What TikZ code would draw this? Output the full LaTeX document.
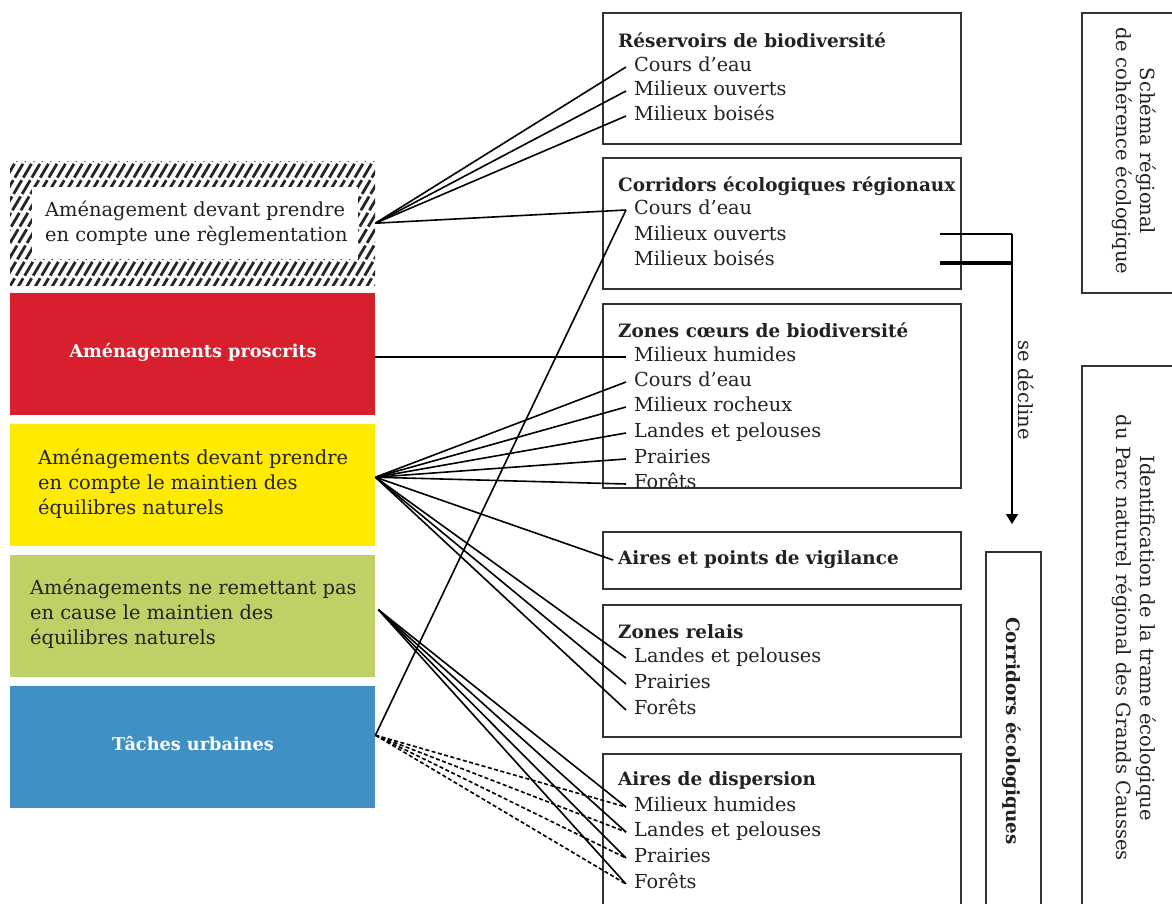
\documentclass[tikz,border=0pt]{standalone}
\usepackage{fontspec}
\setmainfont{DejaVu Serif}
\usetikzlibrary{arrows.meta}
\definecolor{cred}{HTML}{D71F2E}
\definecolor{cyellow}{HTML}{FFEB00}
\definecolor{cgreen}{HTML}{BDD167}
\definecolor{cblue}{HTML}{4090C5}
\definecolor{ctext}{HTML}{222222}
\begin{document}
\begin{tikzpicture}[x=1pt,y=-1pt,
  conn/.style={line width=1.6pt, black},
  dconn/.style={conn, dash pattern=on 4pt off 2.5pt},
  colbox/.style={anchor=north west, minimum width=365pt, minimum height=122pt, inner sep=0pt, draw=none},
  rbox/.style={draw=black!80, line width=1.8pt, anchor=north west, inner sep=0pt},
  ttl/.style={anchor=west, font=\bfseries\fontsize{18.4}{22}\selectfont, inner sep=0pt, text=ctext},
  itm/.style={anchor=west, font=\fontsize{19.3}{22}\selectfont, inner xsep=8pt, inner ysep=0pt, text height=13pt, text depth=4pt, text=ctext},
  ltxt/.style={anchor=west, align=left, font=\fontsize{19.4}{25}\selectfont, inner sep=0pt, text=ctext},
  wtxt/.style={font=\bfseries\fontsize{17.7}{22}\selectfont, text=white},
  rtxt/.style={rotate=-90, align=center, font=\fontsize{19.5}{24}\selectfont, text=ctext},
]
\clip (0,0) rectangle (1172,904);
\fill[white] (0,0) rectangle (1172,904);

% ---------- left boxes ----------
\node[colbox] (hatch) at (10,162) {};
\begin{scope}
  \clip (10,162) rectangle (375,285);
  \foreach \i in {0,...,55} {
    \draw[line width=2.8pt, black!85, dash pattern=on 16pt off 3pt] (\i*8.5-70,292) -- (\i*8.5+10,157);
  }
\end{scope}
\fill[white] (32,187) rectangle (358,259);
\node[ltxt] (hatchtxt) at (45,223) {Aménagement devant prendre\\en compte une règlementation};

\node[colbox, fill=cred] (red) at (10,293) {};
\node[wtxt] (redtxt) at (193,352) {Aménagements proscrits};

\node[colbox, fill=cyellow] (yellow) at (10,424) {};
\node[ltxt] (yeltxt) at (38,484) {Aménagements devant prendre\\en compte le maintien des\\équilibres naturels};

\node[colbox, fill=cgreen] (green) at (10,555) {};
\node[ltxt] (grtxt) at (30,614) {Aménagements ne remettant pas\\en cause le maintien des\\équilibres naturels};

\node[colbox, fill=cblue] (blue) at (10,686) {};
\node[wtxt] (bltxt) at (193,744) {Tâches urbaines};

% ---------- right boxes ----------
\node[rbox, minimum width=358pt, minimum height=131pt] (resbox) at (602,12) {};
\node[ttl] (rest) at (618,40) {Réservoirs de biodiversité};
\node[itm] (r1) at (626,67) {Cours d’eau};
\node[itm] (r2) at (626,91) {Milieux ouverts};
\node[itm] (r3) at (626,116) {Milieux boisés};

\node[rbox, minimum width=358pt, minimum height=131pt] (corbox) at (602,157) {};
\node[ttl] (cort) at (618,186) {Corridors écologiques régionaux};
\node[itm] (c1) at (626,210) {Cours d’eau};
\node[itm] (c2) at (626,236) {Milieux ouverts};
\node[itm] (c3) at (626,261) {Milieux boisés};

\node[rbox, minimum width=358pt, minimum height=184pt] (zcbox) at (602,303) {};
\node[ttl] (zct) at (618,330) {Zones cœurs de biodiversité};
\node[itm] (z1) at (626,357) {Milieux humides};
\node[itm] (z2) at (626,382) {Cours d’eau};
\node[itm] (z3) at (626,407) {Milieux rocheux};
\node[itm] (z4) at (626,433) {Landes et pelouses};
\node[itm] (z5) at (626,459) {Prairies};
\node[itm] (z6) at (626,484) {Forêts};

\node[rbox, minimum width=358pt, minimum height=57pt] (apvbox) at (602,531) {};
\node[ttl] (apv) at (618,560) {Aires et points de vigilance};

\node[rbox, minimum width=358pt, minimum height=132pt] (zrbox) at (602,604) {};
\node[ttl] (zrt) at (618,632) {Zones relais};
\node[itm] (zr1) at (626,658) {Landes et pelouses};
\node[itm] (zr2) at (626,684) {Prairies};
\node[itm] (zr3) at (626,710) {Forêts};

\node[rbox, minimum width=358pt, minimum height=200pt] (adbox) at (602,753) {};
\node[ttl] (adt) at (618,780) {Aires de dispersion};
\node[itm] (d1) at (626,807) {Milieux humides};
\node[itm] (d2) at (626,832) {Landes et pelouses};
\node[itm] (d3) at (626,858) {Prairies};
\node[itm] (d4) at (626,884) {Forêts};

% ---------- far right ----------
\node[rbox, minimum width=130pt, minimum height=280pt] (srce) at (1081,12) {};
\node[rtxt] (srcetxt) at (1134,151) {Schéma régional\\de cohérence écologique};

\node[rbox, minimum width=130pt, minimum height=600pt] (ident) at (1081,365) {};
\node[rtxt] (identtxt) at (1134,638) {Identification de la trame écologique\\du Parc naturel régional des Grands Causses};

\node[rbox, minimum width=55pt, minimum height=400pt] (ceco) at (985,551) {};
\node[rtxt, font=\bfseries\fontsize{18.4}{24}\selectfont] (cecotxt) at (1012,731) {Corridors écologiques};

% ---------- se décline ----------
\coordinate (o1) at (940,234);
\coordinate (o2) at (940,263);
\coordinate (bend) at (1012,234);
\coordinate (bend2) at (1012,263);
\coordinate (tip) at (1012,524);
\draw[line width=1.6pt] (o1) -- (bend);
\draw[line width=3.4pt] (o2) -- (bend2);
\draw[line width=1.6pt, -{Triangle[width=12pt,length=10pt]}] (bend) -- (tip);
\node[rtxt] (decl) at (1026,390) {se décline};

% ---------- connectors ----------
\draw[conn] (hatch.east) -- (r1.west);
\draw[conn] (hatch.east) -- (r2.west);
\draw[conn] (hatch.east) -- (r3.west);
\draw[conn] (hatch.east) -- (c1.west);
\draw[conn] ([yshift=12pt]blue.east) -- (c1.west);

\draw[conn] (red.east |- z1.west) -- (z1.west);

\foreach \t in {z2,z3,z4,z5,z6,zr1,zr2,zr3}
  \draw[conn] ([yshift=8pt]yellow.east) -- (\t.west);
\draw[conn] ([yshift=8pt]yellow.east) -- ([xshift=-5pt]apv.west);

\foreach \t in {d1,d2,d3,d4}
  \draw[conn] ([xshift=3pt,yshift=6.5pt]green.east) -- (\t.west);
\foreach \t in {d1,d2,d3,d4}
  \draw[dconn] ([yshift=12pt]blue.east) -- (\t.west);
\end{tikzpicture}
\end{document}
